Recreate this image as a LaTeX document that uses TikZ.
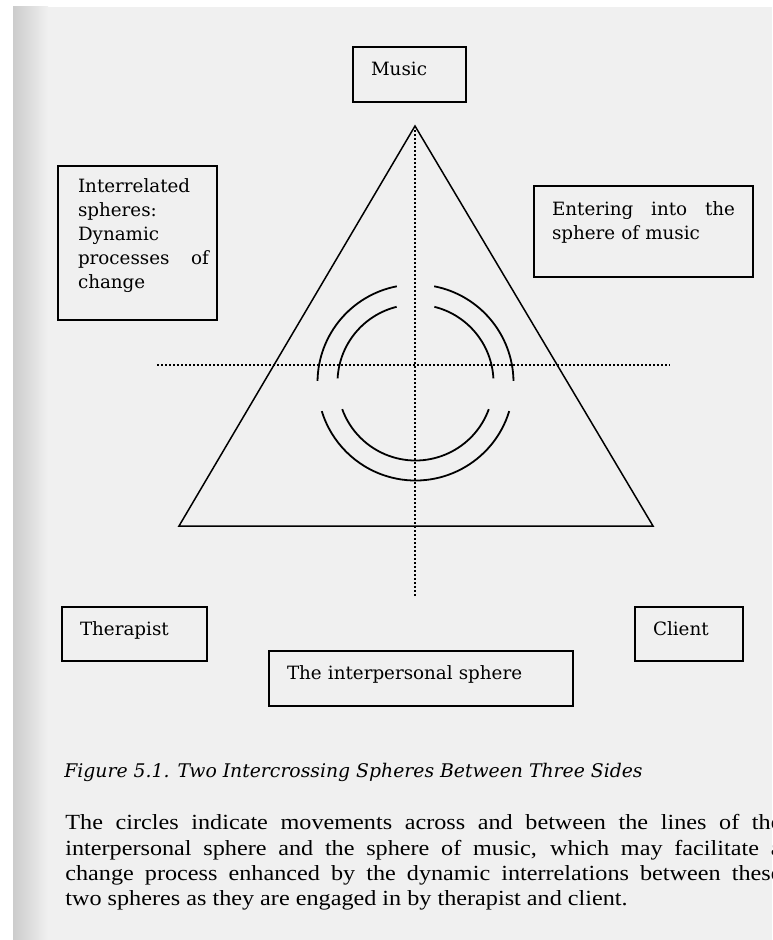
\documentclass[tikz,border=0pt]{standalone}
\usepackage{fontspec}
\setmainfont{Liberation Serif}
\newfontfamily\boxfont{DejaVu Serif}
\newfontfamily\parafont[FakeStretch=1.12]{Liberation Serif}

\begin{document}
\begin{tikzpicture}[x=0.5pt, y=-0.5pt,
    frame/.style={draw, line width=1pt, anchor=north west, inner xsep=9pt, inner ysep=0pt, align=left, font=\boxfont\fontsize{9.15pt}{12pt}\selectfont},
    edge/.style={line width=.75pt},
    axis/.style={line width=1pt, dash pattern=on 1pt off 1pt},
    ring/.style={line width=.9pt},
    body/.style={anchor=base west, inner sep=0pt, font=\parafont\fontsize{10.8pt}{13pt}\selectfont},
]
    \useasboundingbox (0,0) rectangle (772,940);
    \clip (0,0) rectangle (772,940);

    % page
    \fill[white] (0,0) rectangle (772,940);
    \fill[black!6] (13,7) rectangle (772,940);
    \shade[left color=black!20, right color=black!6] (13,7) rectangle (48,940);

    % triangle
    \coordinate (top) at (415,126);
    \coordinate (baseL) at (179,526);
    \coordinate (baseR) at (653,526);
    \draw[edge] (top) -- (baseL) -- (baseR) -- cycle;

    % dotted axes
    \coordinate (axisB) at (415,596);
    \coordinate (axisL) at (157,365);
    \coordinate (axisR) at (670,365);
    \draw[axis] (top) -- (axisB);
    \draw[axis] (axisL) -- (axisR);

    % two spheres
    \coordinate (core) at (415.5,382.5);
    \draw[ring] ([shift={(-79:98)}]core) arc[start angle=-79, end angle=-1, radius=98];
    \draw[ring] ([shift={(-101:98)}]core) arc[start angle=-101, end angle=-179, radius=98];
    \draw[ring] ([shift={(17:98)}]core) arc[start angle=17, end angle=163, radius=98];
    \draw[ring] ([shift={(-76:78)}]core) arc[start angle=-76, end angle=-3, radius=78];
    \draw[ring] ([shift={(-104:78)}]core) arc[start angle=-104, end angle=-177, radius=78];
    \draw[ring] ([shift={(20:78)}]core) arc[start angle=20, end angle=160, radius=78];

    % sides
    \node[frame, text width=38.5pt, text height=14.5pt, text depth=13pt] (music) at (352,46) {Music};
    \node[frame, inner xsep=10pt, text width=59.5pt, text height=13.5pt, text depth=63.5pt] (spheres) at (57,165)
        {Interrelated\\spheres:\\Dynamic\\\makebox[65.5pt][l]{processes\hfill of}\\change};
    \node[frame, text width=91.5pt, text height=15pt, text depth=30.5pt] (entering) at (533,185)
        {\makebox[91.5pt]{Entering\hfill into\hfill the}\\sphere of music};
    \node[frame, text width=54.5pt, text height=14pt, text depth=13pt] (therapist) at (61,606) {Therapist};
    \node[frame, text width=36pt, text height=14pt, text depth=13pt] (client) at (634,606) {Client};
    \node[frame, text width=134pt, text height=14pt, text depth=13.5pt] (interp) at (268,650) {The interpersonal sphere};

    % caption
    \node[anchor=base west, inner sep=0pt, font=\boxfont\itshape\fontsize{9.4pt}{11pt}\selectfont] (caption) at (64,777)
        {Figure 5.1. Two Intercrossing Spheres Between Three Sides};
    \node[body] (line1) at (65,829) {\makebox[358pt][s]{The circles indicate movements across and between the lines of the}};
    \node[body] (line2) at (65,855) {\makebox[358pt][s]{interpersonal sphere and the sphere of music, which may facilitate a}};
    \node[body] (line3) at (65,880) {\makebox[358pt][s]{change process enhanced by the dynamic interrelations between these}};
    \node[body] (line4) at (65,905) {two spheres as they are engaged in by therapist and client.};
\end{tikzpicture}
\end{document}
